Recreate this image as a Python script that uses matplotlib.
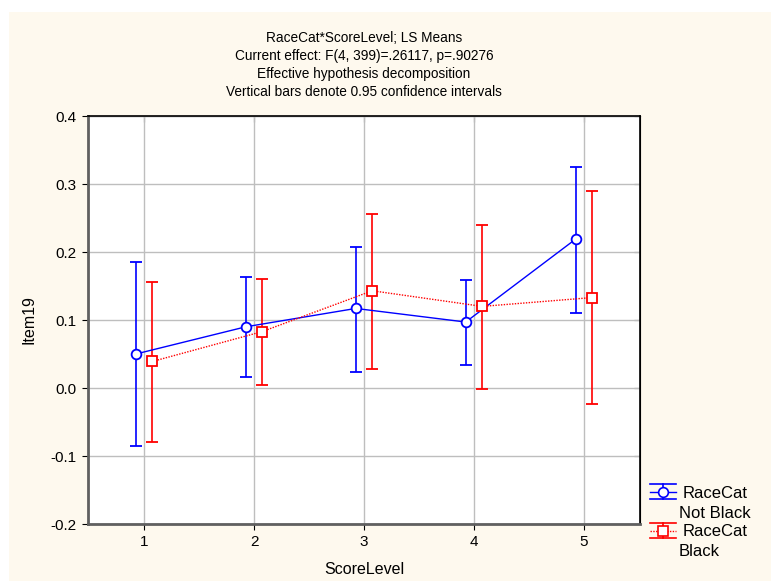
#!/usr/bin/env python3
"""
LS means of Item19 by ScoreLevel and RaceCat, with 0.95 confidence intervals.
"""

import numpy as np
import matplotlib.pyplot as plt
from matplotlib.lines import Line2D
from matplotlib.patches import Rectangle
from matplotlib.legend_handler import HandlerBase

plt.rcParams['font.family'] = ['Liberation Sans', 'DejaVu Sans']

# data
score_levels = [1, 2, 3, 4, 5]
not_black_mean = [0.050, 0.090, 0.117, 0.097, 0.219]
not_black_lo = [-0.085, 0.016, 0.024, 0.034, 0.111]
not_black_hi = [0.185, 0.163, 0.208, 0.159, 0.325]
black_mean = [0.039, 0.083, 0.143, 0.120, 0.133]
black_lo = [-0.080, 0.005, 0.028, -0.001, -0.023]
black_hi = [0.156, 0.161, 0.256, 0.240, 0.289]
group_names = ['Not Black', 'Black']

title_lines = [
    "RaceCat*ScoreLevel; LS Means",
    "Current effect: F(4, 399)=.26117, p=.90276",
    "Effective hypothesis decomposition",
    "Vertical bars denote 0.95 confidence intervals",
]


class HandlerCI(HandlerBase):
    """Legend symbol: caps above and below, the series line, a marker."""

    def create_artists(self, legend, orig, xd, yd, width, height, fontsize, trans):
        color, marker, ls = orig
        cy = height / 2 - yd
        h = 5.4  # points, ~7.5 px
        arts = [
            Line2D([-xd, width - xd], [cy + h, cy + h], color=color, lw=1.2),
            Line2D([-xd, width - xd], [cy - h, cy - h], color=color, lw=1.2),
            Line2D([-xd, width - xd], [cy, cy], color=color, lw=1.0, linestyle=ls),
            Line2D([width / 2 - xd] * 2, [cy - h, cy + h], color=color, lw=1.2),
            Line2D([width / 2 - xd], [cy], marker=marker, markersize=7,
                   markerfacecolor='white', markeredgecolor=color,
                   markeredgewidth=1.2, linestyle='none'),
        ]
        for a in arts:
            a.set_transform(trans)
        return arts


bg = '#FEF9EE'
W, H = 771, 581
fig = plt.figure(figsize=(W / 100, H / 100), dpi=100, facecolor=bg)
# thin white margin along the top and left edges
fig.patches.append(Rectangle((0, 1 - 12 / H), 1, 12 / H, transform=fig.transFigure,
                             facecolor='white', edgecolor='none', zorder=-10))
fig.patches.append(Rectangle((0, 0), 9 / W, 1, transform=fig.transFigure,
                             facecolor='white', edgecolor='none', zorder=-10))

ax = fig.add_axes([88 / W, 1 - 524 / H, (640 - 88) / W, (524 - 116) / H])
ax.set_facecolor('white')

x = np.array(score_levels, dtype=float)
off = 0.075


def draw(xpos, mean, lo, hi, color, marker, ls):
    mean = np.array(mean)
    yerr = np.vstack([mean - np.array(lo), np.array(hi) - mean])
    ax.errorbar(xpos, mean, yerr=yerr, color=color, ecolor=color,
                marker=marker, markersize=7, markerfacecolor='white',
                markeredgecolor=color, markeredgewidth=1.3,
                linestyle=ls, linewidth=1.0, elinewidth=1.2,
                capsize=4, capthick=1.2, zorder=3)


draw(x - off, not_black_mean, not_black_lo, not_black_hi, '#0000FF', 'o', '-')
draw(x + off, black_mean, black_lo, black_hi, '#FF0000', 's', (0, (1, 1)))

ax.set_xlim(0.49, 5.51)
ax.set_ylim(-0.2, 0.4)
yt = np.arange(-0.2, 0.41, 0.1)
ax.set_xticks(score_levels)
ax.set_yticks(yt)
ax.set_yticklabels([f"{v:.1f}" for v in yt])
ax.grid(True, color='#BEBEBE', linewidth=1.0, zorder=0)
ax.set_axisbelow(True)
ax.tick_params(direction='out', length=4, labelsize=11, colors='black', pad=4)
for s in ax.spines.values():
    s.set_color('black')
    s.set_linewidth(1.2)
for side in ('left', 'bottom'):
    ax.spines[side].set_color('#606060')
    ax.spines[side].set_linewidth(2)

# inward ticks on top and right
sx = ax.secondary_xaxis('top')
sx.set_xticks(score_levels)
sx.tick_params(direction='in', length=4, labeltop=False)
sy = ax.secondary_yaxis('right')
sy.set_yticks(yt)
sy.tick_params(direction='in', length=4, labelright=False)

ax.set_xlabel('ScoreLevel', fontsize=11.5, va='center')
ax.set_ylabel('Item19', fontsize=11.5, va='center')
ax.xaxis.set_label_coords(0.5, (524 - 570) / (524 - 116))
ax.yaxis.set_label_coords((29 - 88) / (640 - 88), 0.5)

for i, line in enumerate(title_lines):
    fig.text(364 / W, 1 - (38 + 18 * i) / H, line, ha='center', va='center',
             fontsize=9.8)

handles = [('#0000FF', 'o', '-'), ('#FF0000', 's', (0, (1, 1)))]
leg = fig.legend(handles=handles, labels=['RaceCat', 'RaceCat'],
                 handler_map={tuple: HandlerCI()},
                 loc='upper left', bbox_to_anchor=(650 / W, 1 - 485 / H),
                 frameon=False, fontsize=12, handlelength=1.56, handleheight=0.9,
                 handletextpad=0.42, labelspacing=1.39, borderaxespad=0,
                 borderpad=0)
for i, name in enumerate(group_names):
    fig.text(679 / W, 1 - (513 + 38 * i) / H, name, ha='left', va='center',
             fontsize=12)

fig.savefig('out.png', dpi=100, facecolor=bg)
